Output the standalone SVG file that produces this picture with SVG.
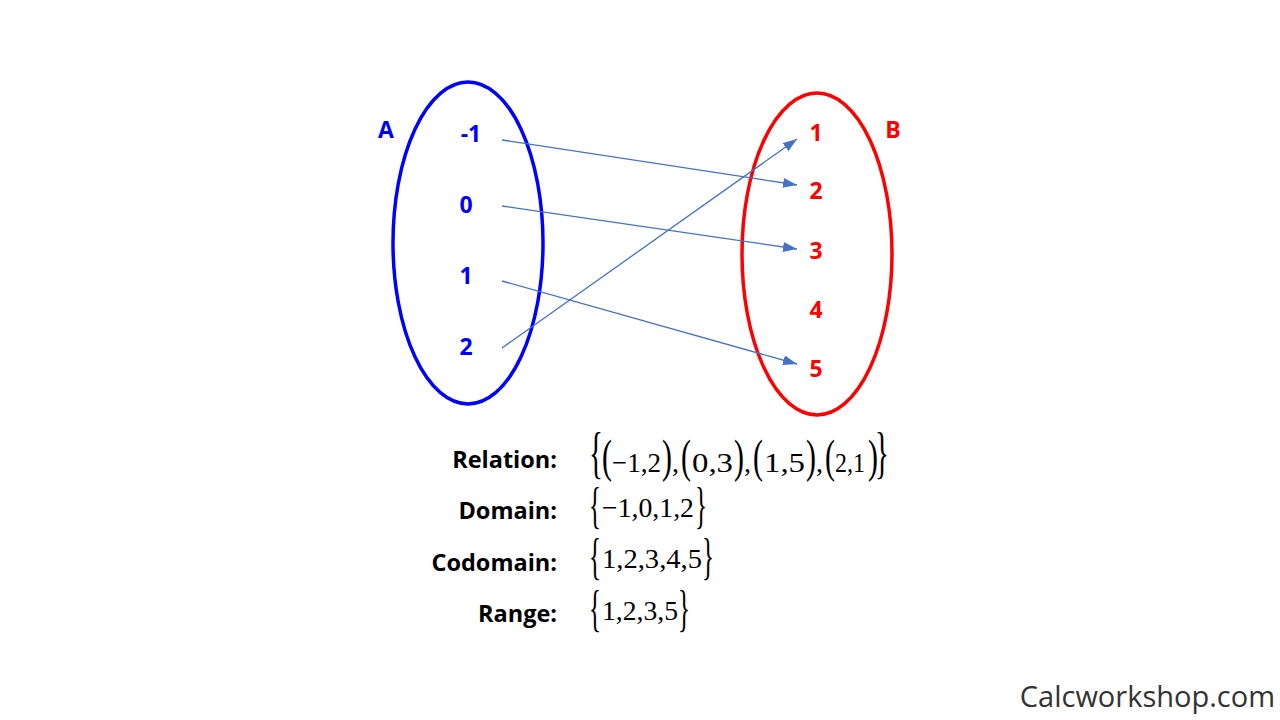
<svg xmlns="http://www.w3.org/2000/svg" width="1280" height="720" viewBox="0 0 1280 720">
<defs>
<marker id="ah" viewBox="0 0 14 10" refX="14" refY="5" markerWidth="14" markerHeight="10" markerUnits="userSpaceOnUse" orient="auto"><path d="M0,0 L14,5 L0,10 z" fill="#4472C4"/></marker>
<style>
.lbl{font-family:"Open Sans","Liberation Sans",sans-serif;font-weight:bold;font-size:23px;text-anchor:middle}
.blue{fill:#0000FF}
.red{fill:#FF0000}
.hd{font-family:"Open Sans","Liberation Sans",sans-serif;font-weight:bold;font-size:23.5px;fill:#000;text-anchor:end}
.m{font-family:"Liberation Serif","Times New Roman",serif;font-size:28px;fill:#000}
.br1{font-size:58px}
.br2{font-size:50px}
.pa{font-size:46px}
.conn{stroke:#4472C4;stroke-width:1.3;fill:none;marker-end:url(#ah)}
</style>
</defs>
<rect width="1280" height="720" fill="#fff"/>
<g id="setA">
<ellipse cx="468" cy="243" rx="75" ry="161" fill="none" stroke="#0000FF" stroke-width="3.5"/>
<text class="lbl blue" x="386" y="138">A</text>
<text class="lbl blue" x="471" y="142">-1</text>
<text class="lbl blue" x="466" y="213">0</text>
<text class="lbl blue" x="466" y="284">1</text>
<text class="lbl blue" x="466" y="355">2</text>
</g>
<g id="setB">
<ellipse cx="817" cy="254" rx="75" ry="161" fill="none" stroke="#FF0000" stroke-width="3.5"/>
<text class="lbl red" x="893" y="138">B</text>
<text class="lbl red" x="816" y="141">1</text>
<text class="lbl red" x="816" y="199">2</text>
<text class="lbl red" x="816" y="259">3</text>
<text class="lbl red" x="816" y="318">4</text>
<text class="lbl red" x="816" y="377">5</text>
</g>
<g id="connectors">
<line class="conn" x1="502" y1="140" x2="797" y2="185"/>
<line class="conn" x1="502" y1="206" x2="797" y2="249"/>
<line class="conn" x1="502" y1="281" x2="797" y2="364"/>
<line class="conn" x1="502" y1="348" x2="797" y2="139"/>
</g>
<g id="definitions">
<text class="hd" x="557" y="468">Relation:</text>
<text class="hd" x="557" y="519">Domain:</text>
<text class="hd" x="557" y="571">Codomain:</text>
<text class="hd" x="557" y="622">Range:</text>

<g id="relation">
<text class="m br1" transform="translate(589,472) scale(0.5,1)">{</text>
<text class="m pa" transform="translate(602,472) scale(0.65,1)">(</text>
<text class="m" x="612" y="472" textLength="49" lengthAdjust="spacingAndGlyphs">−1,2</text>
<text class="m pa" transform="translate(662,472) scale(0.65,1)">)</text>
<text class="m" x="672" y="472">,</text>
<text class="m pa" transform="translate(681,472) scale(0.65,1)">(</text>
<text class="m" x="692" y="472" textLength="41" lengthAdjust="spacingAndGlyphs">0,3</text>
<text class="m pa" transform="translate(734,472) scale(0.65,1)">)</text>
<text class="m" x="744" y="472">,</text>
<text class="m pa" transform="translate(753,472) scale(0.65,1)">(</text>
<text class="m" x="764" y="472" textLength="41" lengthAdjust="spacingAndGlyphs">1,5</text>
<text class="m pa" transform="translate(806,472) scale(0.65,1)">)</text>
<text class="m" x="816" y="472">,</text>
<text class="m pa" transform="translate(825,472) scale(0.65,1)">(</text>
<text class="m" x="835" y="472" textLength="30" lengthAdjust="spacingAndGlyphs">2,1</text>
<text class="m pa" transform="translate(868,472) scale(0.65,1)">)</text>
<text class="m br1" transform="translate(875,472) scale(0.5,1)">}</text>
</g>
<g id="domain">
<text class="m br2" transform="translate(589,522) scale(0.5,1)">{</text>
<text class="m" x="602" y="517" textLength="92" lengthAdjust="spacingAndGlyphs">−1,0,1,2</text>
<text class="m br2" transform="translate(695,522) scale(0.5,1)">}</text>
</g>
<g id="codomain">
<text class="m br2" transform="translate(589,573) scale(0.5,1)">{</text>
<text class="m" x="602" y="568" textLength="100" lengthAdjust="spacingAndGlyphs">1,2,3,4,5</text>
<text class="m br2" transform="translate(702,573) scale(0.5,1)">}</text>
</g>
<g id="range">
<text class="m br2" transform="translate(589,625) scale(0.5,1)">{</text>
<text class="m" x="602" y="620" textLength="76" lengthAdjust="spacingAndGlyphs">1,2,3,5</text>
<text class="m br2" transform="translate(678,625) scale(0.5,1)">}</text>
</g>
</g>
<text x="1275" y="707" text-anchor="end" font-family="'Open Sans','Liberation Sans',sans-serif" font-size="29" fill="#333">Calcworkshop.com</text>
</svg>
